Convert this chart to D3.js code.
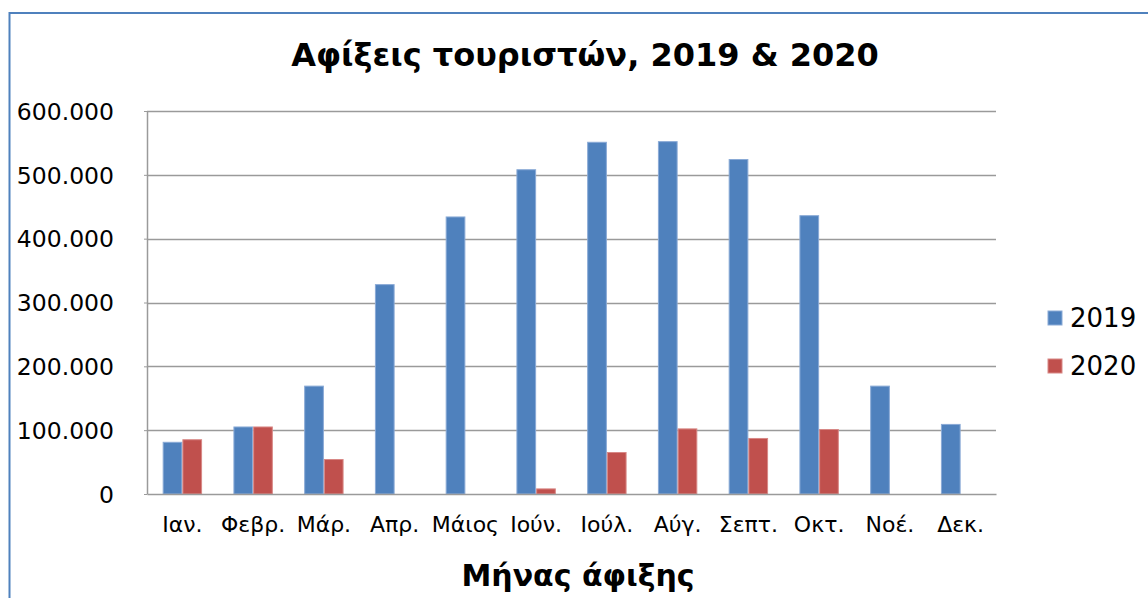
<!DOCTYPE html>
<html>
<head>
<meta charset="utf-8">
<script src="https://cdn.jsdelivr.net/npm/d3@7"></script>
<style>
  html, body { margin: 0; padding: 0; background: #fff; }
  svg { display: block; font-family: "DejaVu Sans", Verdana, sans-serif; }
</style>
</head>
<body>
<svg id="chart" width="1148" height="598"></svg>
<script>
const months = ["Ιαν.", "Φεβρ.", "Μάρ.", "Απρ.", "Μάιος", "Ιούν.", "Ιούλ.", "Αύγ.", "Σεπτ.", "Οκτ.", "Νοέ.", "Δεκ."];
const seriesNames = ["2019", "2020"];
const arrivals2019 = [81000, 105000, 169000, 328000, 434000, 508000, 551000, 552000, 524000, 436000, 169000, 109000];
const arrivals2020 = [85000, 105000, 54000, 0, 0, 8000, 65000, 102000, 87000, 101000, 0, 0];
const yTickValues = [0, 100000, 200000, 300000, 400000, 500000, 600000];
const chartTitle = "Αφίξεις τουριστών, 2019 & 2020";
const xAxisTitle = "Μήνας άφιξης";

const colors = { "2019": "#4F81BD", "2020": "#C0504D" };
const strokes = { "2019": "#8AAAD6", "2020": "#D88886" };

const svg = d3.select("#chart");
const plot = { left: 147, right: 996, top: 111, bottom: 494 };

// outer chart border (blue)
svg.append("rect")
  .attr("x", 9.5).attr("y", 13).attr("width", 1160).attr("height", 620)
  .attr("fill", "none").attr("stroke", "#4F81BD").attr("stroke-width", 2);

const grLocale = d3.formatLocale({ decimal: ",", thousands: ".", grouping: [3], currency: ["€", ""] });
const fmt = grLocale.format(",");

const y = d3.scaleLinear().domain([0, 600000]).range([plot.bottom, plot.top]);
const x0 = d3.scaleBand().domain(months).range([plot.left, plot.right])
  .paddingInner(0.443).paddingOuter(0.2215);
const x1 = d3.scaleBand().domain(seriesNames).range([0, x0.bandwidth()]);

// gridlines
svg.append("g")
  .selectAll("line").data(yTickValues.filter(d => d > 0)).join("line")
  .attr("x1", plot.left).attr("x2", plot.right)
  .attr("y1", d => Math.round(y(d)) + 0.5).attr("y2", d => Math.round(y(d)) + 0.5)
  .attr("stroke", "#9a9a9a").attr("stroke-width", 1.5);

// y axis
const yAxis = svg.append("g")
  .attr("transform", `translate(${plot.left},0)`)
  .call(d3.axisLeft(y).tickValues(yTickValues).tickFormat(fmt).tickSizeInner(3).tickSizeOuter(0).tickPadding(30));
yAxis.select(".domain").attr("stroke", "#9a9a9a").attr("stroke-width", 1.5);
yAxis.selectAll(".tick line").attr("stroke", "#9a9a9a");
yAxis.selectAll(".tick text").attr("font-size", 23.5).attr("fill", "#000")
  .attr("font-family", "DejaVu Sans").attr("dy", "0.35em");

// bars
const rows = months.map((m, i) => ({ month: m, values: [
  { key: "2019", value: arrivals2019[i] },
  { key: "2020", value: arrivals2020[i] }
]}));

svg.append("g").selectAll("g").data(rows).join("g")
  .attr("transform", d => `translate(${x0(d.month)},0)`)
  .selectAll("rect").data(d => d.values.filter(v => v.value > 0)).join("rect")
  .attr("x", d => x1(d.key) + 0.5)
  .attr("y", d => y(d.value))
  .attr("width", x1.bandwidth() - 1)
  .attr("height", d => y(0) - y(d.value))
  .attr("fill", d => colors[d.key])
  .attr("stroke", d => strokes[d.key]).attr("stroke-width", 1);

// x axis baseline
const xAxis = svg.append("g")
  .attr("transform", `translate(0,${plot.bottom})`)
  .call(d3.axisBottom(x0).tickSize(0).tickPadding(22));
xAxis.select(".domain").attr("stroke", "#9a9a9a").attr("stroke-width", 1.5);
xAxis.selectAll(".tick text").attr("font-size", 22).attr("fill", "#000")
  .attr("font-family", "DejaVu Sans").attr("dy", "0.71em");

// title
svg.append("text").attr("x", 585).attr("y", 66).attr("text-anchor", "middle")
  .attr("font-size", 32).attr("font-weight", "bold").text(chartTitle);

// x axis title
svg.append("text").attr("x", 578).attr("y", 586).attr("text-anchor", "middle")
  .attr("font-size", 30).attr("font-weight", "bold").text(xAxisTitle);

// legend
const legend = svg.append("g").selectAll("g").data(seriesNames).join("g")
  .attr("transform", (d, i) => `translate(1048,${311 + i * 48})`);
legend.append("rect").attr("width", 14).attr("height", 14)
  .attr("fill", d => colors[d]).attr("stroke", d => strokes[d]).attr("stroke-width", 1);
legend.append("text").attr("x", 22).attr("y", 16).attr("font-size", 26).attr("fill", "#000").text(d => d);
</script>
</body>
</html>
